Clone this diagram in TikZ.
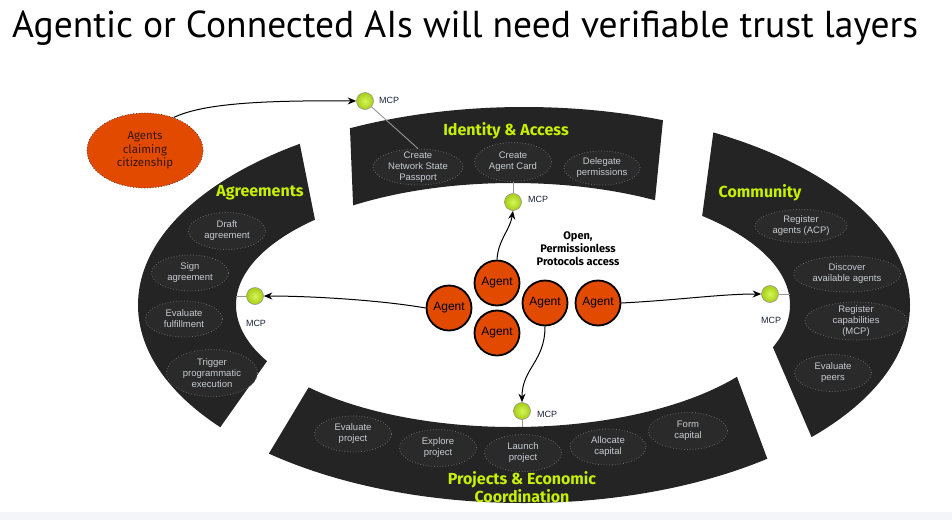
\documentclass[tikz,border=0pt]{standalone}
\usepackage{fontspec}
\setmainfont{Liberation Sans}
\newfontfamily\titlefont{PT Sans}
\newfontfamily\figfont{Fira Sans}
\usetikzlibrary{shapes.geometric,arrows.meta}
\definecolor{bandc}{RGB}{36,36,36}
\definecolor{itemfill}{RGB}{42,42,42}
\definecolor{itemdot}{RGB}{105,105,105}
\definecolor{itemtxt}{RGB}{200,204,210}
\definecolor{lime}{RGB}{198,240,0}
\definecolor{agentor}{RGB}{226,74,0}
\definecolor{mcpdark}{RGB}{25,35,60}
\definecolor{citor}{RGB}{226,74,0}
\definecolor{cittxt}{RGB}{55,22,5}
\definecolor{stripc}{RGB}{244,245,249}
\definecolor{glinec}{RGB}{150,150,150}
\definecolor{mcpin}{RGB}{215,245,90}
\definecolor{mcpout}{RGB}{165,205,20}
\newcommand\ringfill{\fill[bandc, even odd rule] (524,305) ellipse [x radius=386, y radius=198] (513,305) ellipse [x radius=277, y radius=122];}
\begin{document}
\begin{tikzpicture}[x=1pt,y=-1pt,
  item/.style={ellipse, draw=itemdot, dotted, line width=0.8pt, fill=itemfill, inner sep=0pt},
  itemtext/.style={text=itemtxt, align=center, inner sep=0pt, font=\fontsize{9.5}{11}\selectfont},
  agent/.style={circle, draw=black, line width=1.8pt, fill=agentor, minimum size=45pt, inner sep=0pt, font=\fontsize{12}{14}\selectfont},
  mcp/.style={circle, draw=glinec, line width=0.6pt, inner color=mcpin, outer color=mcpout, minimum size=17pt, inner sep=0pt},
  mcplab/.style={text=mcpdark, inner sep=0pt, font=\fontsize{9}{10}\selectfont},
  conn/.style={-{Stealth[length=8.5pt,width=7pt]}, line width=1pt, black},
  gline/.style={draw=glinec, line width=0.9pt},
  bandlab/.style={text=lime, align=center, inner sep=0pt, font=\figfont\bfseries\fontsize{16}{18}\selectfont}
]
\useasboundingbox (0,0) rectangle (952,520);
\fill[white] (0,0) rectangle (952,520);
\fill[stripc] (0,512) rectangle (952,520);

% title
\node[anchor=base west, inner sep=0pt] (title) at (12,37) {\resizebox{906pt}{!}{\titlefont\fontsize{34}{40}\selectfont Agentic or Connected AIs will need verifiable trust layers}};

% bands
\begin{scope}
\clip (348,80) -- (667,80) -- (651,240) -- (354.5,240) -- cycle;
\ringfill
\end{scope}
\begin{scope}
\clip (100,90) -- (291,100) -- (323,260) -- (282,340) -- (190,470) -- (100,470) -- cycle;
\ringfill
\end{scope}
\begin{scope}
\clip (719,90) -- (950,90) -- (950,480) -- (830,480) -- (765.5,330) -- (697.6,250) -- cycle;
\ringfill
\end{scope}
\begin{scope}
\clip (325,360) -- (727,350) -- (790,520) -- (229,520) -- cycle;
\ringfill
\end{scope}

% band labels
\node[bandlab] (labI) at (506,131) {Identity \& Access};
\node[bandlab] (labA) at (260,193) {Agreements};
\node[bandlab] (labC) at (760,193) {Community};
\node[bandlab, font=\figfont\bfseries\fontsize{16}{18.5}\selectfont] (labP) at (522,487) {Projects \& Economic\\Coordination};

% items: identity
\node[item, minimum width=90pt, minimum height=36pt] (pass) at (418,167) {};
\node[itemtext] (passT) at (pass) {Create\\Network State\\Passport};
\node[item, minimum width=77pt, minimum height=39pt] (card) at (513,162) {};
\node[itemtext] (cardT) at (card) {Create\\Agent Card};
\node[item, minimum width=76pt, minimum height=34pt] (deleg) at (602,168) {};
\node[itemtext] (delegT) at (deleg) {Delegate\\permissions};

% items: agreements
\node[item, minimum width=77pt, minimum height=37pt] (draft) at (227,231) {};
\node[itemtext] (draftT) at (draft) {Draft\\agreement};
\node[item, minimum width=77pt, minimum height=36pt] (sign) at (190,273) {};
\node[itemtext] (signT) at (sign) {Sign\\agreement};
\node[item, minimum width=77pt, minimum height=36pt] (evalf) at (184,319) {};
\node[itemtext] (evalfT) at (evalf) {Evaluate\\fulfillment};
\node[item, minimum width=91pt, minimum height=47pt] (trig) at (212,373) {};
\node[itemtext] (trigT) at (trig) {Trigger\\programmatic\\execution};

% items: community
\node[item, minimum width=92pt, minimum height=33pt] (regA) at (801,226) {};
\node[itemtext] (regAT) at (regA) {Register\\agents (ACP)};
\node[item, minimum width=107pt, minimum height=36pt] (disc) at (847,274) {};
\node[itemtext] (discT) at (disc) {Discover\\available agents};
\node[item, minimum width=102pt, minimum height=38pt] (regC) at (856,321) {};
\node[itemtext] (regCT) at (regC) {Register\\capabilities\\(MCP)};
\node[item, minimum width=77pt, minimum height=37pt] (evalp) at (833,373) {};
\node[itemtext] (evalpT) at (evalp) {Evaluate\\peers};

% items: projects
\node[item, minimum width=77pt, minimum height=36pt] (evproj) at (353,434) {};
\node[itemtext] (evprojT) at (evproj) {Evaluate\\project};
\node[item, minimum width=77pt, minimum height=37pt] (expl) at (438,448) {};
\node[itemtext] (explT) at (expl) {Explore\\project};
\node[item, minimum width=77pt, minimum height=37pt] (launch) at (523,453) {};
\node[itemtext] (launchT) at (launch) {Launch\\project};
\node[item, minimum width=76pt, minimum height=36pt] (alloc) at (608,447) {};
\node[itemtext] (allocT) at (alloc) {Allocate\\capital};
\node[item, minimum width=79pt, minimum height=37pt] (form) at (688,431) {};
\node[itemtext] (formT) at (form) {Form\\capital};

% citizenship
\node[ellipse, fill=citor, draw=black!75, dotted, line width=0.8pt, minimum width=116pt, minimum height=75pt, inner sep=0pt] (cit) at (145,150.5) {};
\node[text=cittxt, align=center, inner sep=0pt, font=\figfont\fontsize{11.5}{13.5}\selectfont] (citT) at (cit) {Agents\\claiming\\citizenship};

% MCP nodes
\node[mcp] (mcpT) at (365,101) {};
\node[mcplab, anchor=west] (mcpTl) at (379,100) {MCP};
\node[mcp] (mcpI) at (513,202) {};
\node[mcplab, anchor=west] (mcpIl) at (528,199) {MCP};
\node[mcp] (mcpL) at (255,296) {};
\node[mcplab] (mcpLl) at (256,323) {MCP};
\node[mcp] (mcpR) at (770,294) {};
\node[mcplab] (mcpRl) at (771,320) {MCP};
\node[mcp] (mcpB) at (522,411) {};
\node[mcplab, anchor=west] (mcpBl) at (537,414) {MCP};

\coordinate (edgeL) at (236,296);
\coordinate (edgeR) at (790,294);
\coordinate (edgeB) at (522,427);

% gray links
\draw[gline] (mcpT) -- (pass.north);
\draw[gline] (card.south) -- (mcpI);
\draw[gline] (mcpL) -- (edgeL);
\draw[gline] (mcpR) -- (edgeR);
\draw[gline] (mcpB) -- (edgeB);

% agents
\node[agent] (a1) at (497,283) {Agent};
\node[agent] (a2) at (449,308) {Agent};
\node[agent] (a3) at (497,333) {Agent};
\node[agent] (a4) at (545,303) {Agent};
\node[agent] (a5) at (598,303) {Agent};

\node[align=center, inner sep=0pt, font=\figfont\bfseries\fontsize{11}{13}\selectfont] (open) at (578,249) {Open,\\Permissionless\\Protocols access};

% arrows
\draw[conn] (cit.49) .. controls (200,105) and (250,100) .. (mcpT.west);
\draw[conn] (a1.north) .. controls (498,240) and (510,230) .. (mcpI.south);
\draw[conn] (a2.west) .. controls (380,300) and (310,296) .. (mcpL.east);
\draw[conn] (a4.south) .. controls (545,362) and (522,368) .. (mcpB.north);
\draw[conn] (a5.east) .. controls (680,300) and (720,294) .. (mcpR.west);
\end{tikzpicture}
\end{document}
